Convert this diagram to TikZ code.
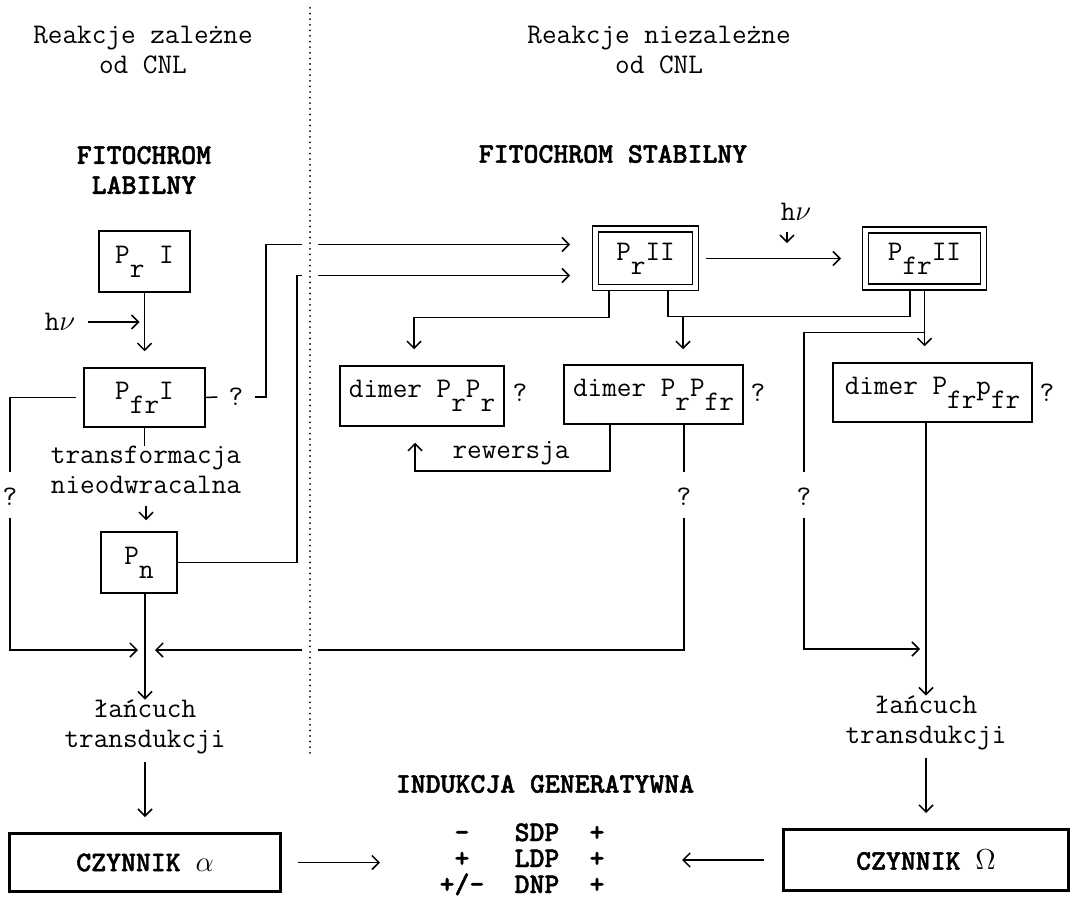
\documentclass[tikz,border=0pt]{standalone}
\usepackage{fontspec}
\usetikzlibrary{arrows.meta}
\newfontfamily\boldmono[FakeBold=1.6]{lmmonolt10-bold.otf}
\newcommand\txtsize{\ttfamily\fontsize{14.2}{15}\selectfont}
\newcommand\bftxt{\boldmono\fontsize{14.2}{15}\selectfont}
\newcommand\dn[1]{\raisebox{-0.5em}{#1}}
\newcommand\pmsl{+/-}
\tikzset{
  every node/.style={font=\txtsize, inner sep=0pt},
  box/.style={draw, line width=0.75pt},
  dbox/.style={draw, line width=0.6pt, double, double distance=2.4pt, outer sep=1.8pt},
  fbox/.style={draw, line width=1.5pt, font=\bftxt},
  hdr/.style={font=\bftxt},
  conn/.style={line width=0.75pt},
  arr/.style={conn, -{Straight Barb[length=3.5pt,width=7pt]}},
  divider/.style={line width=1pt, line cap=round, dash pattern=on 0pt off 2.8pt,
    preaction={draw, white, solid, line cap=butt, line width=8pt}},
}
\begin{document}
\begin{tikzpicture}[x=0.5pt, y=-0.5pt]
  \useasboundingbox (0,0) rectangle (1075,898);
  % naglowki
  \node[align=center] (hdrL) at (143,50) {Reakcje zależne\\od CNL};
  \node[align=center] (hdrR) at (659,50) {Reakcje niezależne\\od CNL};
  \node[hdr, align=center] (labL) at (144,170) {FITOCHROM\\LABILNY};
  \node[hdr] (labR) at (613,154) {FITOCHROM STABILNY};
  % fitochrom labilny
  \node[box, minimum width=45.5pt, minimum height=30.5pt] (prI) at (144.5,261.5) {P\dn{r} I};
  \node (hv1) at (60,322) {h$\nu$};
  \node[box, minimum width=60.5pt, minimum height=29.5pt] (pfrI) at (144.5,397.5) {P\dn{fr}I};
  \node (q1) at (236,397) {?};
  \node[align=center] (trans) at (146,470) {transformacja\\nieodwracalna};
  \node (q5) at (10,497) {?};
  \node[box, minimum width=38pt, minimum height=30.5pt] (pn) at (139,562.5) {P\dn{n}};
  \node[align=center] (lanc1) at (145,727) {łańcuch\\transdukcji};
  % fitochrom stabilny
  \node[dbox, minimum width=49.9pt, minimum height=29.4pt] (prII) at (645.5,258.5) {P\dn{r}II};
  \node[dbox, minimum width=58.9pt, minimum height=28.5pt] (pfrII) at (924.5,258.5) {P\dn{fr}II};
  \node (hv2) at (796,212) {h$\nu$};
  \node[box, minimum width=82pt, minimum height=30pt] (dPrPr) at (422,396) {dimer P\dn{r}P\dn{r}};
  \node (q2) at (520,393) {?};
  \node[box, minimum width=89.5pt, minimum height=29.5pt] (dPrPfr) at (653.5,394.5) {dimer P\dn{r}P\dn{fr}};
  \node (q3) at (758,393) {?};
  \node[box, minimum width=99.5pt, minimum height=29.5pt] (dPfrPfr) at (932.5,392.5) {dimer P\dn{fr}p\dn{fr}};
  \node (q4) at (1047,393) {?};
  \node (rew) at (511,453) {rewersja};
  \node (q6) at (684,497) {?};
  \node (q7) at (804,497) {?};
  \node[align=center] (lanc2) at (926,723) {łańcuch\\transdukcji};
  % czynniki i indukcja
  \node[fbox, minimum width=135.5pt, minimum height=29pt] (czA) at (145,862.5) {CZYNNIK $\alpha$};
  \node[fbox, minimum width=142.5pt, minimum height=30.5pt] (czO) at (926,860) {CZYNNIK $\Omega$};
  \node[hdr] (ind) at (545,784) {INDUKCJA GENERATYWNA};
  \foreach \y/\s/\d [count=\i] in {833/-/SDP, 859/+/LDP, 885/\pmsl/DNP}{
    \node[hdr, anchor=base] (sg\i) at (462,\y+8) {\s};
    \node[hdr, anchor=base] (dp\i) at (537,\y+8) {\d};
    \node[hdr, anchor=base] (pl\i) at (597,\y+8) {+};
  }
  % punkty zbiegu
  \coordinate (jL) at (138,650);
  \coordinate (jR) at (155,650);
  \coordinate (jO) at (920,649);
  \coordinate (inA) at ([xshift=-11pt,yshift=7pt]prII.west);
  \coordinate (inB) at ([xshift=-11pt,yshift=-8.5pt]prII.west);
  % strzalki po lewej
  \draw[arr, shorten >=8pt] (prI) -- (pfrI);
  \draw[arr] ([xshift=6pt]hv1.east) -- ++(26pt,0);
  \draw[conn] (pfrI.south) -- (pfrI.south |- trans.north);
  \draw[arr] ([yshift=-6pt]trans.south) -- ++(0,-7pt);
  \draw[conn] ([xshift=-3.5pt]pfrI.west) -| ([yshift=8pt]q5.north);
  \draw[arr] ([yshift=-6pt]q5.south) |- (jL);
  \draw[conn] (pfrI.east) -- ([xshift=-5.5pt]q1.west);
  \draw[arr] ([xshift=5.5pt]q1.east) -| ([xshift=-152pt]inA) -- (inA);
  \draw[arr] (pn.east) -| ([xshift=-136.5pt]inB) -- (inB);
  \draw[arr] (pn.south -| lanc1.north) -- (lanc1.north);
  \draw[arr] ([yshift=-4pt]lanc1.south) -- ([yshift=7.5pt]czA.north);
  % strzalki po prawej
  \draw[arr] ([xshift=3.5pt]prII.east) -- ([xshift=-10.5pt]pfrII.west);
  \draw[arr] ([xshift=-4.5pt,yshift=-5.5pt]hv2.south) -- ++(0,-5.5pt);
  \draw[arr] ([xshift=-18.25pt]prII.south) -- ++(0,-13pt) -| ([xshift=-4pt,yshift=8pt]dPrPr.north);
  \draw[conn] ([xshift=11.25pt]prII.south) |- ([xshift=-7.25pt,yshift=-13pt]pfrII.south) -- ([xshift=-7.25pt]pfrII.south);
  \draw[arr] ([xshift=18.75pt,yshift=-13pt]prII.south) -- ([xshift=14.75pt,yshift=7.5pt]dPrPfr.north);
  \draw[arr, shorten >=8pt] (pfrII.south) -- (pfrII.south |- dPfrPfr.north);
  \draw[conn] ([yshift=-21pt]pfrII.south) -| ([yshift=8pt]q7.north);
  \draw[arr] ([yshift=-6pt]q7.south) |- (jO);
  \draw[arr] (dPfrPfr.south -| lanc2.north) -- (lanc2.north);
  \draw[arr] ([yshift=-4pt]lanc2.south) -- ([yshift=7.5pt]czO.north);
  % rewersja i ?
  \draw[arr] ([xshift=-21.75pt]dPrPfr.south) |- ([xshift=-3.5pt,yshift=-22pt]dPrPr.south) -- ([xshift=-3.5pt,yshift=-8pt]dPrPr.south);
  \draw[conn] (dPrPfr.south -| q6.north) -- ([yshift=8pt]q6.north);
  \draw[arr] ([yshift=-6pt]q6.south) |- (jR);
  % do indukcji
  \draw[arr] ([xshift=8pt]czA.east) -- ++(41pt,0);
  \draw[arr] ([xshift=-9pt]czO.west) -- ++(-41pt,0);
  % linia podzialu
  \draw[divider] (310,8) -- (310,753);
\end{tikzpicture}
\end{document}
